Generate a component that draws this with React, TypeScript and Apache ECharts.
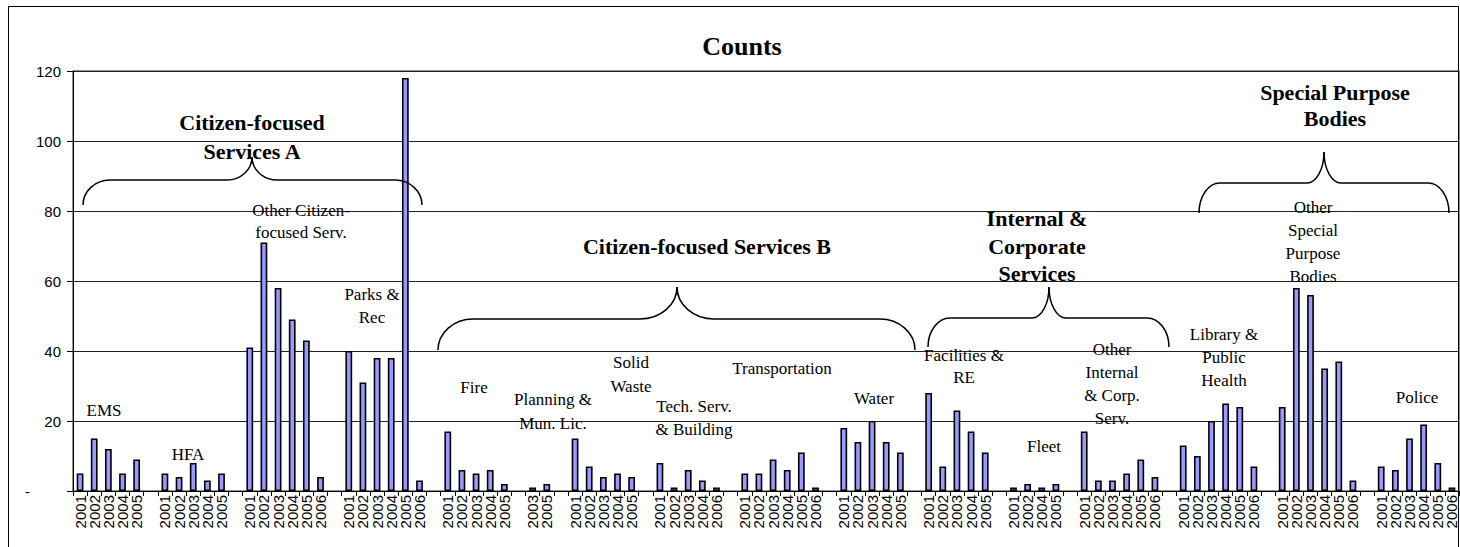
import React, { useEffect, useRef } from 'react';
import * as echarts from 'echarts';

// ---- Data ----
const emsYears = ['2001', '2002', '2003', '2004', '2005'];
const emsCounts = [5, 15, 12, 5, 9];
const hfaYears = ['2001', '2002', '2003', '2004', '2005'];
const hfaCounts = [5, 4, 8, 3, 5];
const otherCitizenYears = ['2001', '2002', '2003', '2004', '2005', '2006'];
const otherCitizenCounts = [41, 71, 58, 49, 43, 4];
const parksYears = ['2001', '2002', '2003', '2004', '2005', '2006'];
const parksCounts = [40, 31, 38, 38, 118, 3];
const fireYears = ['2001', '2002', '2003', '2004', '2005'];
const fireCounts = [17, 6, 5, 6, 2];
const planningYears = ['2003', '2005'];
const planningCounts = [1, 2];
const solidWasteYears = ['2001', '2002', '2003', '2004', '2005'];
const solidWasteCounts = [15, 7, 4, 5, 4];
const techYears = ['2001', '2002', '2003', '2004', '2006'];
const techCounts = [8, 1, 6, 3, 1];
const transportationYears = ['2001', '2002', '2003', '2004', '2005', '2006'];
const transportationCounts = [5, 5, 9, 6, 11, 1];
const waterYears = ['2001', '2002', '2003', '2004', '2005'];
const waterCounts = [18, 14, 20, 14, 11];
const facilitiesYears = ['2001', '2002', '2003', '2004', '2005'];
const facilitiesCounts = [28, 7, 23, 17, 11];
const fleetYears = ['2001', '2002', '2004', '2005'];
const fleetCounts = [1, 2, 1, 2];
const otherInternalYears = ['2001', '2002', '2003', '2004', '2005', '2006'];
const otherInternalCounts = [17, 3, 3, 5, 9, 4];
const libraryYears = ['2001', '2002', '2003', '2004', '2005', '2006'];
const libraryCounts = [13, 10, 20, 25, 24, 7];
const otherSpbYears = ['2001', '2002', '2003', '2004', '2005', '2006'];
const otherSpbCounts = [24, 58, 56, 35, 37, 3];
const policeYears = ['2001', '2002', '2003', '2004', '2005', '2006'];
const policeCounts = [7, 6, 15, 19, 8, 1];

const yTicks = [0, 20, 40, 60, 80, 100, 120];

const groupYears = [
  emsYears, hfaYears, otherCitizenYears, parksYears, fireYears, planningYears,
  solidWasteYears, techYears, transportationYears, waterYears, facilitiesYears,
  fleetYears, otherInternalYears, libraryYears, otherSpbYears, policeYears,
];
const groupCounts = [
  emsCounts, hfaCounts, otherCitizenCounts, parksCounts, fireCounts, planningCounts,
  solidWasteCounts, techCounts, transportationCounts, waterCounts, facilitiesCounts,
  fleetCounts, otherInternalCounts, libraryCounts, otherSpbCounts, policeCounts,
];

// category keys are unique: "<group>|<year label>|<slot>"; gaps have an empty year label
const categories: string[] = [];
const counts: (number | null)[] = [];
groupYears.forEach((ys, gi) => {
  if (gi > 0) {
    categories.push(gi + '||gap');
    counts.push(null);
  }
  ys.forEach((y, i) => {
    categories.push(gi + '|' + y + '|' + i);
    counts.push(groupCounts[gi][i]);
  });
});

const SERIF = '"Liberation Serif", "Times New Roman", serif';
const SANS = '"Liberation Sans", Arial, sans-serif';

function brace(x1: number, x2: number, tip: number, yb: number, ym: number, yt: number, r: number, r2: number) {
  const k = 0.552;
  const s = { stroke: '#000', lineWidth: 1.5, fill: 'none' };
  const base = { silent: true, z: 20 };
  return [
    { type: 'bezierCurve', ...base, shape: { x1: x1, y1: yb, cpx1: x1, cpy1: yb - k * (yb - ym), cpx2: x1 + r - k * r, cpy2: ym, x2: x1 + r, y2: ym }, style: s },
    { type: 'line', ...base, shape: { x1: x1 + r, y1: ym, x2: tip - r2, y2: ym }, style: s },
    { type: 'bezierCurve', ...base, shape: { x1: tip - r2, y1: ym, cpx1: tip - r2 + k * r2, cpy1: ym, cpx2: tip, cpy2: yt + k * (ym - yt), x2: tip, y2: yt }, style: s },
    { type: 'bezierCurve', ...base, shape: { x1: tip, y1: yt, cpx1: tip, cpy1: yt + k * (ym - yt), cpx2: tip + r2 - k * r2, cpy2: ym, x2: tip + r2, y2: ym }, style: s },
    { type: 'line', ...base, shape: { x1: tip + r2, y1: ym, x2: x2 - r, y2: ym }, style: s },
    { type: 'bezierCurve', ...base, shape: { x1: x2 - r, y1: ym, cpx1: x2 - r + k * r, cpy1: ym, cpx2: x2, cpy2: yb - k * (yb - ym), x2: x2, y2: yb }, style: s },
  ];
}

function label(text: string, x: number, y: number, bold: boolean, size: number, lh: number) {
  return {
    type: 'text',
    x,
    y,
    silent: true,
    z: 20,
    style: {
      text,
      fill: '#000',
      fontFamily: SERIF,
      fontSize: size,
      fontWeight: bold ? 'bold' : 'normal',
      align: 'center',
      verticalAlign: 'middle',
      lineHeight: lh,
    },
  };
}

export default function App() {
  const ref = useRef<HTMLDivElement>(null);

  useEffect(() => {
    if (!ref.current) return;
    const chart = echarts.init(ref.current, undefined, { renderer: 'svg' });

    const graphics: any[] = [
      { type: 'rect', silent: true, z: 0, shape: { x: 0.5, y: 0.5, width: 1450, height: 600 }, style: { fill: 'none', stroke: '#000', lineWidth: 1 } },
      label('Counts', 734, 40, true, 26, 30),
      // group labels
      label('Citizen-focused\nServices A', 244, 131, true, 22, 29),
      label('Citizen-focused Services B', 699, 240, true, 22, 27),
      label('Internal &\nCorporate\nServices', 1029, 240, true, 22, 27.5),
      label('Special Purpose\nBodies', 1327, 99, true, 22, 26),
      // category labels
      label('EMS', 96, 404, false, 17, 22),
      label('HFA', 180, 448, false, 17, 22),
      label('Other Citizen-\nfocused Serv.', 293, 215, false, 17, 22),
      label('Parks &\nRec', 364, 300, false, 17, 23),
      label('Fire', 466, 381, false, 17, 22),
      label('Planning &\nMun. Lic.', 545, 405, false, 17, 24),
      label('Solid\nWaste', 623, 368, false, 17, 24),
      label('Tech. Serv.\n& Building', 686, 412, false, 17, 23),
      label('Transportation', 774, 362, false, 17, 22),
      label('Water', 866, 392, false, 17, 22),
      label('Facilities &\nRE', 956, 360, false, 17, 22),
      label('Fleet', 1036, 440, false, 17, 22),
      label('Other\nInternal\n& Corp.\nServ.', 1104, 378, false, 17, 22.7),
      label('Library &\nPublic\nHealth', 1216, 351, false, 17, 23),
      label('Other\nSpecial\nPurpose\nBodies', 1305, 236, false, 17, 23),
      label('Police', 1409, 391, false, 17, 22),
      ...brace(75, 414, 244, 199, 174, 151, 27, 25),
      ...brace(430, 907, 669, 344, 313, 281, 35, 37),
      ...brace(920, 1161, 1041, 341, 312, 281, 22, 17),
      ...brace(1191, 1441, 1316, 207, 177, 146, 21, 17),
    ];

    chart.setOption({
      animation: false,
      backgroundColor: '#fff',
      grid: {
        left: 65,
        top: 65,
        width: 1386,
        height: 420,
        containLabel: false,
        outerBoundsMode: 'none',
        show: true,
        borderColor: '#222',
        borderWidth: 1,
        backgroundColor: 'transparent',
      },
      xAxis: {
        type: 'category',
        data: categories,
        boundaryGap: true,
        axisLine: { show: true, lineStyle: { color: '#000', width: 1 } },
        axisTick: { show: true, interval: 0, length: 5, lineStyle: { color: '#000', width: 1 } },
        axisLabel: {
          interval: 0,
          rotate: 90,
          margin: 4,
          fontSize: 15,
          fontFamily: SANS,
          color: '#000',
          formatter: (v: string) => v.split('|')[1],
        },
        splitLine: { show: false },
      },
      yAxis: {
        type: 'value',
        min: yTicks[0],
        max: yTicks[yTicks.length - 1],
        interval: yTicks[1] - yTicks[0],
        axisLine: { show: true, lineStyle: { color: '#000', width: 1 } },
        axisTick: { show: true, length: 6, lineStyle: { color: '#000', width: 1 } },
        axisLabel: {
          margin: 12,
          fontSize: 15,
          fontFamily: SANS,
          color: '#000',
          formatter: (v: number) => (v === 0 ? '{d|-}' : String(v)),
          rich: {
            d: { width: 36, align: 'left', fontSize: 15, fontFamily: SANS, color: '#000' },
          },
        },
        splitLine: { show: true, lineStyle: { color: '#222', width: 1 } },
      },
      series: [
        {
          type: 'bar',
          data: counts,
          barWidth: '48%',
          silent: true,
          itemStyle: { color: '#9999FF', borderColor: '#000', borderWidth: 1.6 },
          emphasis: { disabled: true },
        },
      ],
      graphic: graphics,
    });

    return () => chart.dispose();
  }, []);

  return (
    <div
      ref={ref}
      style={{ position: 'fixed', left: 8, top: 6, width: 1452, height: 541 }}
    />
  );
}
